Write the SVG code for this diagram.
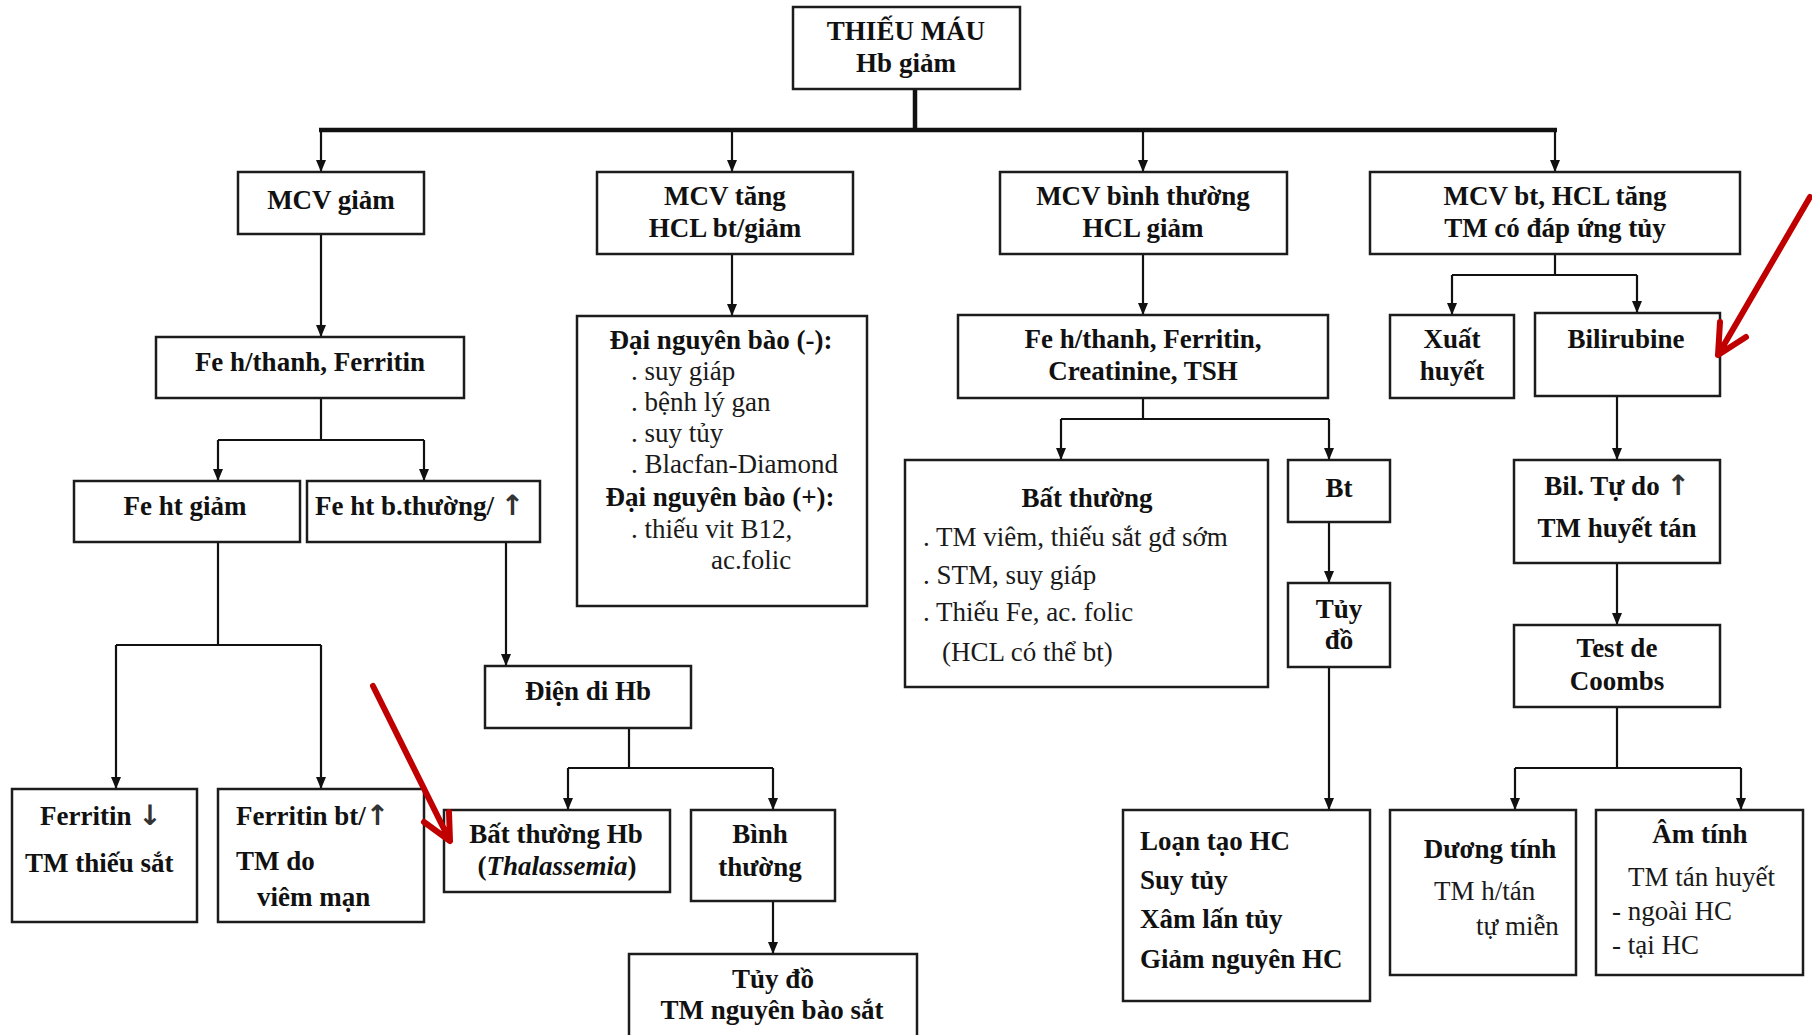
<svg xmlns="http://www.w3.org/2000/svg" width="1812" height="1035" viewBox="0 0 1812 1035">
<style>
  .box { fill: #ffffff; stroke: #1c1c1c; stroke-width: 2.5; }
  .c { fill: none; stroke: #111; stroke-width: 2.2; }
  .bus { fill: none; stroke: #111; stroke-width: 4.5; }
  .t { font-family: "Liberation Serif", "Times New Roman", serif; font-size: 27px; fill: #111; }
  .b { font-weight: bold; }
  .r { font-weight: normal; fill: #1a1a1a; }
  .m { text-anchor: middle; }
  .ar { font-family: "DejaVu Sans", sans-serif; font-weight: bold; font-size: 28px; fill: #333; }
  .red { fill: none; stroke: #c00000; stroke-width: 6; stroke-linecap: round; stroke-linejoin: round; }
</style>
<defs>
  <marker id="ah" viewBox="0 0 12 10" refX="12" refY="5" markerWidth="12" markerHeight="10" markerUnits="userSpaceOnUse" orient="auto">
    <path d="M0,0 L12,5 L0,10 z" fill="#111"/>
  </marker>
</defs>
<rect x="0" y="0" width="1812" height="1035" fill="#ffffff"/>

<g id="connectors">
  <path class="bus" d="M915,89 V130 M319,130 H1557"/>
  <path class="c" d="M321,130 V172" marker-end="url(#ah)"/>
  <path class="c" d="M732,130 V172" marker-end="url(#ah)"/>
  <path class="c" d="M1143,130 V172" marker-end="url(#ah)"/>
  <path class="c" d="M1555,130 V172" marker-end="url(#ah)"/>

  <path class="c" d="M321,234 V337" marker-end="url(#ah)"/>
  <path class="c" d="M321,398 V440 M218,440 H424"/>
  <path class="c" d="M218,440 V481" marker-end="url(#ah)"/>
  <path class="c" d="M424,440 V481" marker-end="url(#ah)"/>
  <path class="c" d="M218,542 V645 M116,645 H321"/>
  <path class="c" d="M116,645 V789" marker-end="url(#ah)"/>
  <path class="c" d="M321,645 V789" marker-end="url(#ah)"/>
  <path class="c" d="M506,542 V666" marker-end="url(#ah)"/>
  <path class="c" d="M629,728 V768 M568,768 H773"/>
  <path class="c" d="M568,768 V810" marker-end="url(#ah)"/>
  <path class="c" d="M773,768 V810" marker-end="url(#ah)"/>
  <path class="c" d="M773,901 V954" marker-end="url(#ah)"/>

  <path class="c" d="M732,254 V316" marker-end="url(#ah)"/>

  <path class="c" d="M1143,254 V315" marker-end="url(#ah)"/>
  <path class="c" d="M1143,398 V419 M1061,419 H1329"/>
  <path class="c" d="M1061,419 V460" marker-end="url(#ah)"/>
  <path class="c" d="M1329,419 V460" marker-end="url(#ah)"/>
  <path class="c" d="M1329,522 V583" marker-end="url(#ah)"/>
  <path class="c" d="M1329,667 V810" marker-end="url(#ah)"/>

  <path class="c" d="M1555,254 V275 M1452,275 H1637"/>
  <path class="c" d="M1452,275 V315" marker-end="url(#ah)"/>
  <path class="c" d="M1637,275 V313" marker-end="url(#ah)"/>
  <path class="c" d="M1617,396 V460" marker-end="url(#ah)"/>
  <path class="c" d="M1617,563 V625" marker-end="url(#ah)"/>
  <path class="c" d="M1617,707 V768 M1515,768 H1741"/>
  <path class="c" d="M1515,768 V810" marker-end="url(#ah)"/>
  <path class="c" d="M1741,768 V810" marker-end="url(#ah)"/>
</g>

<g id="n-thieumau">
  <rect class="box" x="793" y="7" width="227" height="82"/>
  <text class="t b m" x="906" y="40">THIẾU MÁU</text>
  <text class="t b m" x="906" y="72">Hb giảm</text>
</g>

<g id="n-mcv-giam">
  <rect class="box" x="238" y="172" width="186" height="62"/>
  <text class="t b m" x="331" y="209">MCV giảm</text>
</g>

<g id="n-mcv-tang">
  <rect class="box" x="597" y="172" width="256" height="82"/>
  <text class="t b m" x="725" y="205">MCV tăng</text>
  <text class="t b m" x="725" y="237">HCL bt/giảm</text>
</g>

<g id="n-mcv-bt">
  <rect class="box" x="1000" y="172" width="287" height="82"/>
  <text class="t b m" x="1143" y="205">MCV bình thường</text>
  <text class="t b m" x="1143" y="237">HCL giảm</text>
</g>

<g id="n-mcv-bt-hcl-tang">
  <rect class="box" x="1370" y="172" width="370" height="82"/>
  <text class="t b m" x="1555" y="205">MCV bt, HCL tăng</text>
  <text class="t b m" x="1555" y="237">TM có đáp ứng tủy</text>
</g>

<g id="n-fe-ferritin">
  <rect class="box" x="156" y="337" width="308" height="61"/>
  <text class="t b m" x="310" y="371">Fe h/thanh, Ferritin</text>
</g>

<g id="n-dai-nguyen-bao">
  <rect class="box" x="577" y="316" width="290" height="290"/>
  <text class="t b m" x="721" y="349">Đại nguyên bào (-):</text>
  <text class="t r" x="631" y="380">. suy giáp</text>
  <text class="t r" x="631" y="411">. bệnh lý gan</text>
  <text class="t r" x="631" y="442">. suy tủy</text>
  <text class="t r" x="631" y="473">. Blacfan-Diamond</text>
  <text class="t b m" x="720" y="506">Đại nguyên bào (+):</text>
  <text class="t r" x="631" y="538">. thiếu vit B12,</text>
  <text class="t r" x="711" y="569">ac.folic</text>
</g>

<g id="n-fe-creatinine">
  <rect class="box" x="958" y="315" width="370" height="83"/>
  <text class="t b m" x="1143" y="348">Fe h/thanh, Ferritin,</text>
  <text class="t b m" x="1143" y="380">Creatinine, TSH</text>
</g>

<g id="n-xuat-huyet">
  <rect class="box" x="1390" y="315" width="124" height="83"/>
  <text class="t b m" x="1452" y="348">Xuất</text>
  <text class="t b m" x="1452" y="380">huyết</text>
</g>

<g id="n-bilirubine">
  <rect class="box" x="1535" y="313" width="185" height="83"/>
  <text class="t b m" x="1626" y="348">Bilirubine</text>
</g>

<g id="n-fe-ht-giam">
  <rect class="box" x="74" y="481" width="226" height="61"/>
  <text class="t b m" x="185" y="515">Fe ht giảm</text>
</g>

<g id="n-fe-ht-bt">
  <rect class="box" x="307" y="481" width="233" height="61"/>
  <text class="t b" x="315" y="515">Fe ht b.thường/ <tspan class="ar">↑</tspan></text>
</g>

<g id="n-ferritin-giam">
  <rect class="box" x="12" y="789" width="185" height="133"/>
  <text class="t b" x="40" y="825">Ferritin <tspan class="ar" fill="#111">↓</tspan></text>
  <text class="t b" x="25" y="872">TM thiếu sắt</text>
</g>

<g id="n-ferritin-bt">
  <rect class="box" x="218" y="789" width="206" height="133"/>
  <text class="t b" x="236" y="825">Ferritin  bt/<tspan class="ar" fill="#555">↑</tspan></text>
  <text class="t b" x="236" y="870">TM do</text>
  <text class="t b" x="257" y="906">viêm mạn</text>
</g>

<g id="n-dien-di">
  <rect class="box" x="485" y="666" width="206" height="62"/>
  <text class="t b m" x="588" y="700">Điện di Hb</text>
</g>

<g id="n-bat-thuong-hb">
  <rect class="box" x="444" y="810" width="226" height="82"/>
  <text class="t b m" x="556" y="843">Bất thường Hb</text>
  <text class="t b m" x="557" y="875">(<tspan font-style="italic">Thalassemia</tspan>)</text>
</g>

<g id="n-binh-thuong">
  <rect class="box" x="691" y="810" width="144" height="91"/>
  <text class="t b m" x="760" y="843">Bình</text>
  <text class="t b m" x="760" y="876">thường</text>
</g>

<g id="n-tuy-do-1">
  <rect class="box" x="629" y="954" width="288" height="110"/>
  <text class="t b m" x="773" y="988">Tủy đồ</text>
  <text class="t b m" x="772" y="1019">TM nguyên bào sắt</text>
</g>

<g id="n-bat-thuong">
  <rect class="box" x="905" y="460" width="363" height="227"/>
  <text class="t b m" x="1087" y="507">Bất thường</text>
  <text class="t r" x="923" y="546">. TM viêm,  thiếu sắt gđ sớm</text>
  <text class="t r" x="923" y="584">. STM, suy giáp</text>
  <text class="t r" x="923" y="621">. Thiếu Fe, ac. folic</text>
  <text class="t r" x="942" y="661">(HCL có thể bt)</text>
</g>

<g id="n-bt">
  <rect class="box" x="1288" y="460" width="102" height="62"/>
  <text class="t b m" x="1339" y="497">Bt</text>
</g>

<g id="n-tuy-do-2">
  <rect class="box" x="1288" y="583" width="102" height="84"/>
  <text class="t b m" x="1339" y="618">Tủy</text>
  <text class="t b m" x="1339" y="649">đồ</text>
</g>

<g id="n-loan-tao">
  <rect class="box" x="1123" y="810" width="247" height="191"/>
  <text class="t b" x="1140" y="850">Loạn tạo HC</text>
  <text class="t b" x="1140" y="889">Suy tủy</text>
  <text class="t b" x="1140" y="928">Xâm lấn tủy</text>
  <text class="t b" x="1140" y="968">Giảm nguyên HC</text>
</g>

<g id="n-bil-tu-do">
  <rect class="box" x="1514" y="460" width="206" height="103"/>
  <text class="t b m" x="1617" y="495">Bil. Tự do <tspan class="ar">↑</tspan></text>
  <text class="t b m" x="1617" y="537">TM huyết tán</text>
</g>

<g id="n-coombs">
  <rect class="box" x="1514" y="625" width="206" height="82"/>
  <text class="t b m" x="1617" y="657">Test de</text>
  <text class="t b m" x="1617" y="690">Coombs</text>
</g>

<g id="n-duong-tinh">
  <rect class="box" x="1390" y="810" width="186" height="165"/>
  <text class="t b m" x="1490" y="858">Dương tính</text>
  <text class="t r" x="1434" y="900">TM h/tán</text>
  <text class="t r" x="1476" y="935">tự miễn</text>
</g>

<g id="n-am-tinh">
  <rect class="box" x="1596" y="810" width="207" height="165"/>
  <text class="t b m" x="1700" y="843">Âm tính</text>
  <text class="t r" x="1628" y="886">TM tán huyết</text>
  <text class="t r" x="1612" y="920">- ngoài HC</text>
  <text class="t r" x="1612" y="954">- tại HC</text>
</g>

<g id="red-arrows">
  <path class="red" d="M373,686 L450,841 M424,822 L450,841 L449,812"/>
  <path class="red" d="M1810,197 L1718,355 M1720,322 L1718,355 L1746,337"/>
</g>
</svg>
